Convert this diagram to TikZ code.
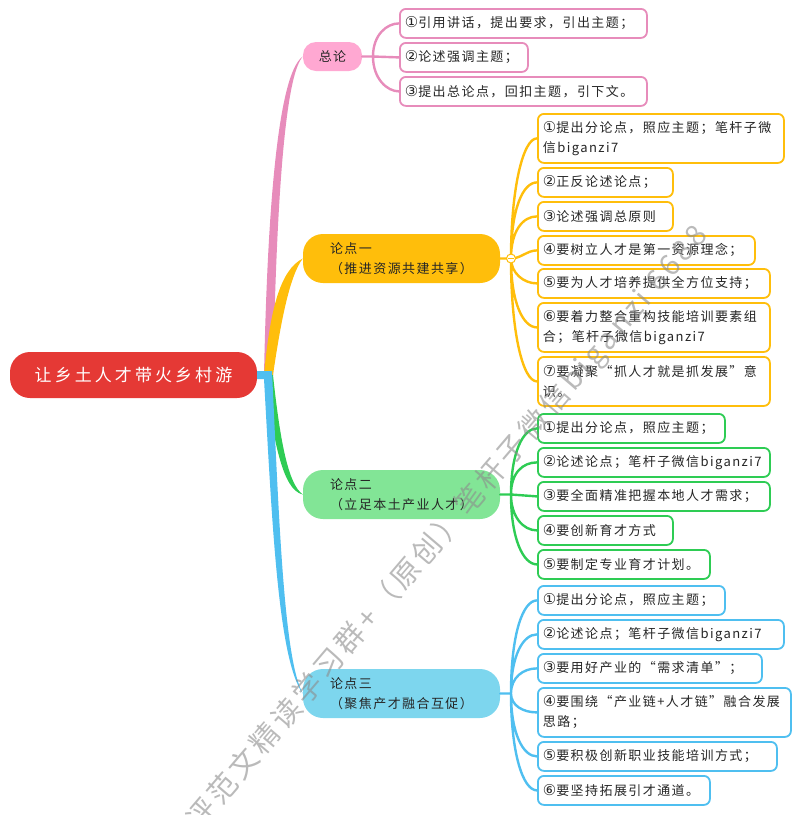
\documentclass[tikz,border=0pt]{standalone}
\usepackage{fontspec}
\setmainfont[LetterSpace=11]{Noto Sans CJK SC}
\newfontfamily\circfont[Scale=1.15]{DejaVu Sans}
\newcommand{\mk}[1]{{\circfont #1}}

\definecolor{pinkline}{HTML}{E78CBB}
\definecolor{pinkfill}{HTML}{FFA8D2}
\definecolor{yellowline}{HTML}{FFBE0B}
\definecolor{greenline}{HTML}{2ECC54}
\definecolor{greenfill}{HTML}{82E596}
\definecolor{blueline}{HTML}{4FBFF0}
\definecolor{bluefill}{HTML}{7DD6EE}
\definecolor{rootfill}{HTML}{E53935}

\begin{document}
\begin{tikzpicture}[x=1pt,y=-1pt,
    every node/.style={font=\fontsize{13}{20}\selectfont,inner sep=0pt,align=left,text=black!85},
    root/.style={fill=rootfill,text=white,rounded corners=20pt,minimum width=247pt,minimum height=46pt,font=\fontsize{17}{20}\selectfont\addfontfeature{LetterSpace=18}},
    topic/.style={rounded corners=20pt,minimum width=197pt,minimum height=49pt},
    leaf/.style={draw,line width=1.8pt,fill=white,rounded corners=6pt,anchor=north west,inner xsep=5pt,minimum height=29pt,text width={#1-10pt}},
    tall/.style={minimum height=49pt},
    branch/.style={line width=2.4pt,line cap=round},
    mark text/.style={font=\fontsize{29}{30}\selectfont\addfontfeature{LetterSpace=13},text=black!45,text opacity=0.6}]
    \useasboundingbox (0,0) rectangle (800,815);

    \node[root] (R) at (133.5,375) {让乡土人才带火乡村游};
    \node[topic,fill=pinkfill,rounded corners=13pt,minimum width=59pt,minimum height=29pt] (Z) at (332.5,56.5) {总论};
    \node[topic,fill=yellowline] (A) at (401.5,258.5) {论点一\\（推进资源共建共享）};
    \node[topic,fill=greenfill] (B) at (401.5,494.5) {论点二\\（立足本土产业人才）};
    \node[topic,fill=bluefill] (C) at (401.5,693.5) {论点三\\（聚焦产才融合互促）};

    \coordinate (TL) at (264,375);
    \coordinate (TR) at (273,375);

    % main branches
    \fill[pinkline] (TL) .. controls (267,230) and (276,75) .. (Z.west) .. controls (283,78) and (276,230) .. (TR) -- cycle;
    \fill[yellowline] (TL) .. controls (270,310) and (280,270) .. (A.west) .. controls (290,275) and (281,320) .. (TR) -- cycle;
    \fill[greenline] (TL) .. controls (274,440) and (282,490) .. (B.west) .. controls (288,484) and (280,440) .. (TR) -- cycle;
    \fill[blueline] ([yshift=4pt]R.east) -- (272,371) .. controls (279,520) and (284,660) .. (C.west) .. controls (278,660) and (272,520) .. (264,379) -- ([yshift=-4pt]R.east) -- cycle;

    % first group
    \node[leaf=247pt,draw=pinkline] (Z1) at (399,8) {\mk{①}引用讲话，提出要求，引出主题；};
    \node[leaf=128pt,draw=pinkline] (Z2) at (399,42) {\mk{②}论述强调主题；};
    \node[leaf=247pt,draw=pinkline] (Z3) at (399,76) {\mk{③}提出总论点，回扣主题，引下文。};
    \coordinate (ZH) at (373,56.5);
    \draw[branch,pinkline] (Z.east) -- (ZH) -- (Z2.west)
        (ZH) .. controls +(0,-22) and +(-12,0) .. (Z1.west)
        (ZH) .. controls +(0,22) and +(-12,0) .. (Z3.west);

    % second group
    \node[leaf=246pt,tall,draw=yellowline] (A1) at (537,113) {\mk{①}提出分论点，照应主题；笔杆子微\\信biganzi7};
    \node[leaf=135pt,draw=yellowline] (A2) at (537,167) {\mk{②}正反论述论点；};
    \node[leaf=135pt,draw=yellowline] (A3) at (537,201) {\mk{③}论述强调总原则};
    \node[leaf=217pt,draw=yellowline] (A4) at (537,235) {\mk{④}要树立人才是第一资源理念；};
    \node[leaf=232pt,draw=yellowline] (A5) at (537,268) {\mk{⑤}要为人才培养提供全方位支持；};
    \node[leaf=232pt,tall,draw=yellowline] (A6) at (537,302) {\mk{⑥}要着力整合重构技能培训要素组\\合；笔杆子微信biganzi7};
    \node[leaf=232pt,tall,draw=yellowline] (A7) at (537,356) {\mk{⑦}要凝聚“抓人才就是抓发展”意\\识。};
    \coordinate (AH) at (511,258.5);
    \draw[branch,yellowline] (A.east) -- (AH)
        (AH) .. controls +(0,-70) and +(-14,0) .. (A1.west)
        (AH) .. controls +(0,-50) and +(-14,0) .. (A2.west)
        (AH) .. controls +(0,-28) and +(-14,0) .. (A3.west)
        (AH) .. controls +(10,0) and +(-10,0) .. (A4.west)
        (AH) .. controls +(0,14) and +(-14,0) .. (A5.west)
        (AH) .. controls +(0,44) and +(-14,0) .. (A6.west)
        (AH) .. controls +(0,75) and +(-14,0) .. (A7.west);
    \node[circle,draw=yellowline,fill=white,line width=1pt,minimum size=9pt] (AM) at (AH) {};
    \draw[yellowline,line width=1pt] ([xshift=2pt]AM.west) -- ([xshift=-2pt]AM.east);

    % third group
    \node[leaf=187pt,draw=greenline] (B1) at (537,413) {\mk{①}提出分论点，照应主题；};
    \node[leaf=232pt,draw=greenline] (B2) at (537,447) {\mk{②}论述论点；笔杆子微信biganzi7};
    \node[leaf=232pt,draw=greenline] (B3) at (537,481) {\mk{③}要全面精准把握本地人才需求；};
    \node[leaf=135pt,draw=greenline] (B4) at (537,515) {\mk{④}要创新育才方式};
    \node[leaf=172pt,draw=greenline] (B5) at (537,549) {\mk{⑤}要制定专业育才计划。};
    \coordinate (BH) at (511,494.5);
    \draw[branch,greenline] (B.east) -- (BH) -- (B3.west)
        (BH) .. controls +(0,-42) and +(-14,0) .. (B1.west)
        (BH) .. controls +(0,-22) and +(-14,0) .. (B2.west)
        (BH) .. controls +(0,22) and +(-14,0) .. (B4.west)
        (BH) .. controls +(0,44) and +(-14,0) .. (B5.west);

    % fourth group
    \node[leaf=187pt,draw=blueline] (C1) at (537,585) {\mk{①}提出分论点，照应主题；};
    \node[leaf=246pt,draw=blueline] (C2) at (537,619) {\mk{②}论述论点；笔杆子微信biganzi7};
    \node[leaf=224pt,draw=blueline] (C3) at (537,653) {\mk{③}要用好产业的“需求清单”；};
    \node[leaf=253pt,tall,draw=blueline] (C4) at (537,687) {\mk{④}要围绕“产业链+人才链”融合发展\\思路；};
    \node[leaf=239pt,draw=blueline] (C5) at (537,741) {\mk{⑤}要积极创新职业技能培训方式；};
    \node[leaf=172pt,draw=blueline] (C6) at (537,775) {\mk{⑥}要坚持拓展引才通道。};
    \coordinate (CH) at (511,693.5);
    \draw[branch,blueline] (C.east) -- (CH)
        (CH) .. controls +(0,-60) and +(-14,0) .. (C1.west)
        (CH) .. controls +(0,-38) and +(-14,0) .. (C2.west)
        (CH) .. controls +(0,-16) and +(-14,0) .. (C3.west)
        (CH) .. controls +(0,12) and +(-14,0) .. (C4.west)
        (CH) .. controls +(0,40) and +(-14,0) .. (C5.west)
        (CH) .. controls +(0,60) and +(-14,0) .. (C6.west);

    \node[mark text,rotate=49.5,anchor=east] (W) at (702,230) {评范文精读学习群+（原创）笔杆子微信biganzi 6688};
\end{tikzpicture}
\end{document}
